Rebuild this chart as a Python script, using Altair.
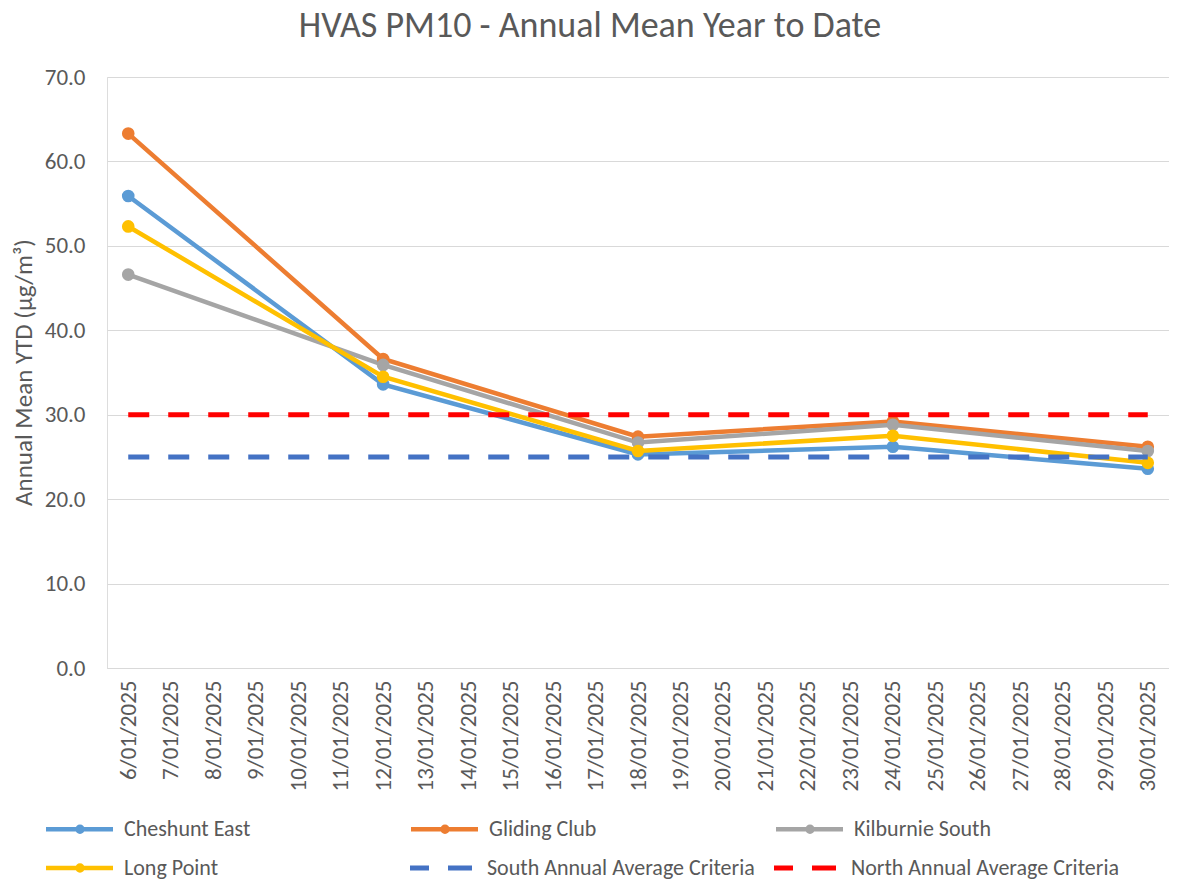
import altair as alt
import pandas as pd

FONT = "Carlito, Lato, sans-serif"
TEXT = "#595959"
GRID = "#d9d9d9"

all_dates = ["6/01/2025", "7/01/2025", "8/01/2025", "9/01/2025", "10/01/2025",
             "11/01/2025", "12/01/2025", "13/01/2025", "14/01/2025", "15/01/2025",
             "16/01/2025", "17/01/2025", "18/01/2025", "19/01/2025", "20/01/2025",
             "21/01/2025", "22/01/2025", "23/01/2025", "24/01/2025", "25/01/2025",
             "26/01/2025", "27/01/2025", "28/01/2025", "29/01/2025", "30/01/2025"]
sample_dates = ["6/01/2025", "12/01/2025", "18/01/2025", "24/01/2025", "30/01/2025"]

sites = ["Cheshunt East", "Gliding Club", "Kilburnie South", "Long Point"]
site_colors = ["#5B9BD5", "#ED7D31", "#A5A5A5", "#FFC000"]
cheshunt_east = [55.9, 33.6, 25.3, 26.2, 23.6]
gliding_club = [63.3, 36.6, 27.4, 29.2, 26.2]
kilburnie_south = [46.6, 35.9, 26.7, 28.8, 25.7]
long_point = [52.3, 34.5, 25.7, 27.5, 24.3]

criteria = ["South Annual Average Criteria", "North Annual Average Criteria"]
criteria_colors = ["#4472C4", "#FF0000"]
south_criteria = [25.0, 25.0, 25.0, 25.0, 25.0]
north_criteria = [30.0, 30.0, 30.0, 30.0, 30.0]

y_ticks = [0, 10, 20, 30, 40, 50, 60, 70]

# legend grid fills in this order so that it reads row by row as in the reference
legend_sites_order = ["Cheshunt East", "Kilburnie South", "Gliding Club", "Long Point"]

site_rows = []
for name, vals in zip(sites, [cheshunt_east, gliding_club, kilburnie_south, long_point]):
    for d, v in zip(sample_dates, vals):
        site_rows.append({"site": name, "date": d, "value": v})
site_df = pd.DataFrame(site_rows)

crit_rows = []
for name, vals in zip(criteria, [south_criteria, north_criteria]):
    for d, v in zip(sample_dates, vals):
        crit_rows.append({"criteria": name, "date": d, "value": v})
crit_df = pd.DataFrame(crit_rows)

x_axis = alt.Axis(labelAngle=-90, labelAlign="right", labelBaseline="middle",
                  labelPadding=12, ticks=False, tickSize=0, grid=False,
                  domainColor=GRID, domainWidth=1, labelFont=FONT, labelFontSize=23,
                  labelColor=TEXT, title=None, labelOverlap=False)
y_axis = alt.Axis(values=y_ticks, format=".1f", ticks=False, tickSize=0, domain=False,
                  grid=True, gridColor=GRID, gridWidth=1, labelPadding=22,
                  labelFont=FONT, labelFontSize=23, labelColor=TEXT,
                  title="Annual Mean YTD (µg/m³)", titleFont=FONT, titleFontSize=25,
                  titleFontWeight="normal", titleColor=TEXT, titleAngle=-90,
                  titleX=-84, titleY=295, titleAlign="center", titleBaseline="middle")

x_enc = alt.X("date:N", scale=alt.Scale(domain=all_dates, type="point", padding=0.5), axis=x_axis)
y_enc = alt.Y("value:Q", scale=alt.Scale(domain=[0, 70], nice=False), axis=y_axis)

SITE_PATH = ("M-1,0H12.4M6.3,0A0.5,0.5,0,1,1,5.3,0A0.5,0.5,0,1,1,6.3,0"
             "M5.95,0A0.15,0.15,0,1,1,5.65,0A0.15,0.15,0,1,1,5.95,0")
CRIT_PATH = "M-1,0H2.8M6.6,0H11.4"

sites_legend = alt.Legend(orient="none", legendX=-67, legendY=741, columns=3, title=None,
                          values=legend_sites_order,
                          symbolType=SITE_PATH, symbolSize=100, symbolStrokeWidth=4.5,
                          labelOffset=62, labelFont=FONT, labelFontSize=22, labelColor=TEXT,
                          labelLimit=400,
                          gridAlign="all", columnPadding=140, rowPadding=15, padding=0)
crit_legend = alt.Legend(orient="none", legendX=297, legendY=780, columns=2, title=None,
                         values=criteria,
                         symbolType=CRIT_PATH, symbolSize=100, symbolStrokeWidth=5,
                         labelOffset=61, labelFont=FONT, labelFontSize=22, labelColor=TEXT,
                         labelLimit=400,
                         gridAlign="all", columnPadding=9, padding=0)

sites_chart = alt.Chart(site_df).mark_line(
    strokeWidth=4.5, point=alt.OverlayMarkDef(filled=True, size=160, opacity=1)
).encode(
    x=x_enc, y=y_enc,
    color=alt.Color("site:N", scale=alt.Scale(domain=sites, range=site_colors), legend=sites_legend),
)

crit_chart = alt.Chart(crit_df).mark_line(strokeWidth=5, strokeDash=[21, 19]).encode(
    x=x_enc, y=y_enc,
    color=alt.Color("criteria:N", scale=alt.Scale(domain=criteria, range=criteria_colors), legend=crit_legend),
)

chart = alt.layer(sites_chart, crit_chart).resolve_scale(color="independent").properties(
    width=1062, height=591,
    padding={"left": 99, "top": 69, "right": 0, "bottom": 213},
    autosize=alt.AutoSizeParams(type="none"),
    title=alt.Title("HVAS PM10 - Annual Mean Year to Date", font=FONT, fontSize=36,
                    fontWeight="normal", color=TEXT, anchor="middle", frame="bounds",
                    baseline="alphabetic", offset=31, dy=38),
).configure_view(stroke=None).configure(background="white")

chart.save("out.html", embed_options={"renderer": "svg", "actions": False})
